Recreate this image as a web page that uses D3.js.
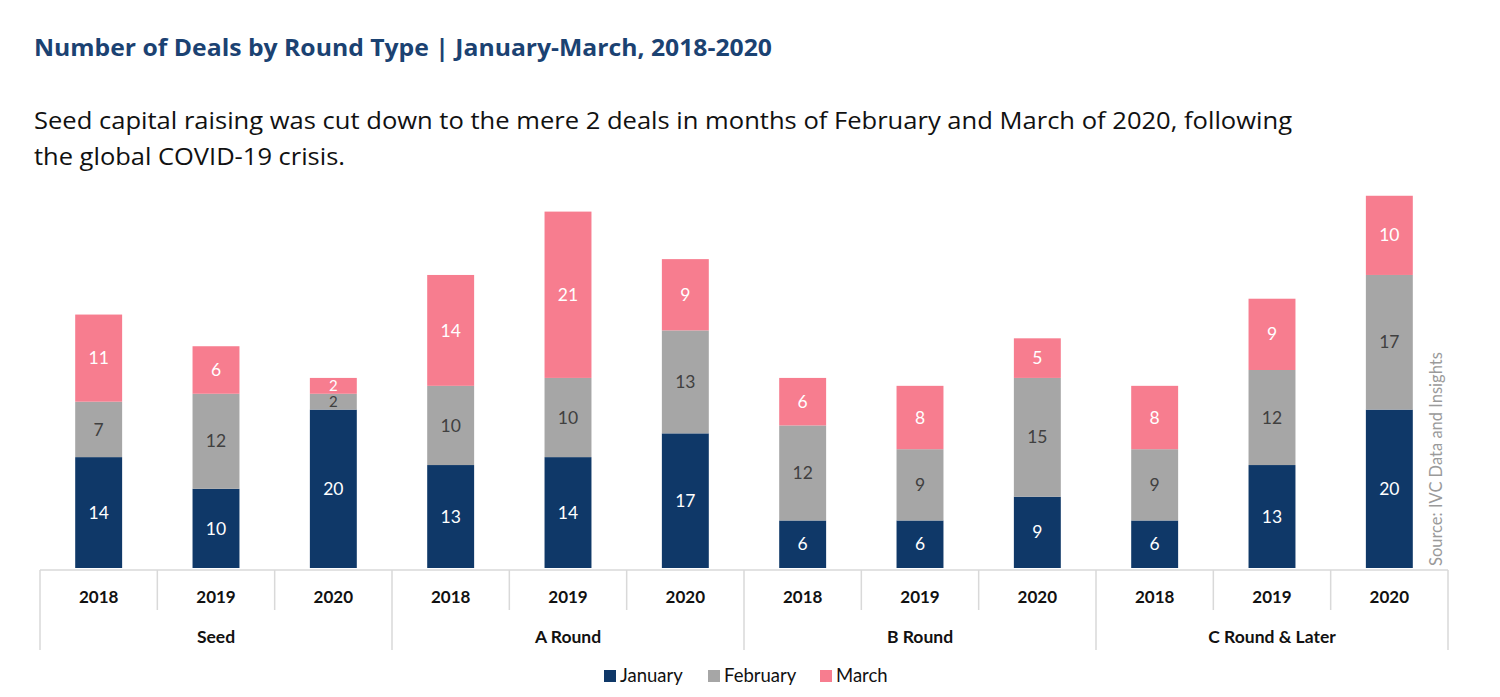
<!DOCTYPE html>
<html>
<head>
<meta charset="utf-8">
<script src="https://cdn.jsdelivr.net/npm/d3@7"></script>
<style>
  body { margin: 0; background: #fff; }
  svg { display: block; font-family: Lato, "Open Sans", sans-serif; }
</style>
</head>
<body>
<svg width="1500" height="697"></svg>
<script>
// Data
const groups = ["Seed", "A Round", "B Round", "C Round & Later"];
const years = ["2018", "2019", "2020"];
const months = ["January", "February", "March"];
const january = [14, 10, 20, 13, 14, 17, 6, 6, 9, 6, 13, 20];
const february = [7, 12, 2, 10, 10, 13, 12, 9, 15, 9, 12, 17];
const march = [11, 6, 2, 14, 21, 9, 6, 8, 5, 8, 9, 10];
const colors = ["#0f3868", "#a6a6a6", "#f77d8f"];
const labelColors = ["#ffffff", "#404040", "#ffffff"];

const svg = d3.select("svg");

// categories: one per group/year pair
const cats = [];
groups.forEach(g => years.forEach(y => cats.push(g + "|" + y)));
const table = cats.map((c, i) => ({ key: c, January: january[i], February: february[i], March: march[i] }));

const x = d3.scaleBand()
    .domain(cats)
    .range([40, 1448])
    .paddingInner(0.6)
    .paddingOuter(0.3);
const y = d3.scaleLinear().domain([0, 50]).range([568, 172]);

const stack = d3.stack().keys(months)(table);

// Title + subtitle (widths fitted to the original layout)
svg.append("text")
    .attr("x", 34).attr("y", 56)
    .attr("fill", "#1b4272")
    .attr("font-family", "'Open Sans', sans-serif")
    .attr("font-size", 23).attr("font-weight", 700)
    .attr("textLength", 738).attr("lengthAdjust", "spacingAndGlyphs")
    .text("Number of Deals by Round Type | January-March, 2018-2020");

const sub = svg.append("text")
    .attr("font-family", "'Open Sans', sans-serif")
    .attr("font-size", 24).attr("fill", "#111");
sub.append("tspan").attr("x", 34).attr("y", 129)
    .attr("textLength", 1258).attr("lengthAdjust", "spacingAndGlyphs")
    .text("Seed capital raising was cut down to the mere 2 deals in months of February and March of 2020, following");
sub.append("tspan").attr("x", 34).attr("y", 165)
    .attr("textLength", 311).attr("lengthAdjust", "spacingAndGlyphs")
    .text("the global COVID-19 crisis.");

// Bars
const layers = svg.append("g").selectAll("g")
    .data(stack)
    .join("g")
    .attr("fill", (d, i) => colors[i]);

layers.selectAll("rect")
    .data(d => d)
    .join("rect")
    .attr("x", d => x(d.data.key))
    .attr("width", x.bandwidth())
    .attr("y", d => y(d[1]))
    .attr("height", d => y(d[0]) - y(d[1]));

// segment labels
stack.forEach((layer, i) => {
    svg.append("g").selectAll("text")
        .data(layer)
        .join("text")
        .attr("x", d => x(d.data.key) + x.bandwidth() / 2)
        .attr("y", d => (y(d[0]) + y(d[1])) / 2)
        .attr("dy", "0.35em")
        .attr("text-anchor", "middle")
        .attr("font-size", d => (d[1] - d[0]) < 3 ? 15 : 17.5)
        .attr("fill", labelColors[i])
        .text(d => d[1] - d[0]);
});

// Axis: baseline, category ticks, group ticks
const axis = svg.append("g").attr("stroke", "#d9d9d9").attr("stroke-width", 1.5);
const step = x.step();
const x0 = x.range()[0];
axis.append("line").attr("x1", x0).attr("x2", x.range()[1]).attr("y1", 570).attr("y2", 570);
d3.range(cats.length + 1).forEach(i => {
    const isGroup = i % years.length === 0;
    axis.append("line")
        .attr("x1", x0 + i * step).attr("x2", x0 + i * step)
        .attr("y1", 570).attr("y2", isGroup ? 650 : 610);
});

svg.append("g").selectAll("text")
    .data(cats)
    .join("text")
    .attr("x", d => x(d) + x.bandwidth() / 2)
    .attr("y", 603)
    .attr("text-anchor", "middle")
    .attr("font-size", 17).attr("font-weight", 700).attr("fill", "#111")
    .text(d => d.split("|")[1]);

svg.append("g").selectAll("text")
    .data(groups)
    .join("text")
    .attr("x", (d, i) => x0 + (i * 3 + 1.5) * step)
    .attr("y", 643)
    .attr("text-anchor", "middle")
    .attr("font-size", 17.5).attr("font-weight", 700).attr("fill", "#111")
    .text(d => d);

// Source (rotated)
svg.append("text")
    .attr("transform", "translate(1442,566) rotate(-90)")
    .attr("font-size", 16.5).attr("fill", "#9a9a9a")
    .text("Source: IVC Data and Insights");

// Legend
const legendX = [604, 708, 820];
const legend = svg.append("g").selectAll("g")
    .data(months)
    .join("g")
    .attr("transform", (d, i) => `translate(${legendX[i]},670)`);
legend.append("rect").attr("width", 12).attr("height", 12).attr("fill", (d, i) => colors[i]);
legend.append("text")
    .attr("x", 16).attr("y", 6).attr("dy", "0.35em")
    .attr("font-size", 18.5).attr("fill", "#111")
    .text(d => d);
</script>
</body>
</html>
